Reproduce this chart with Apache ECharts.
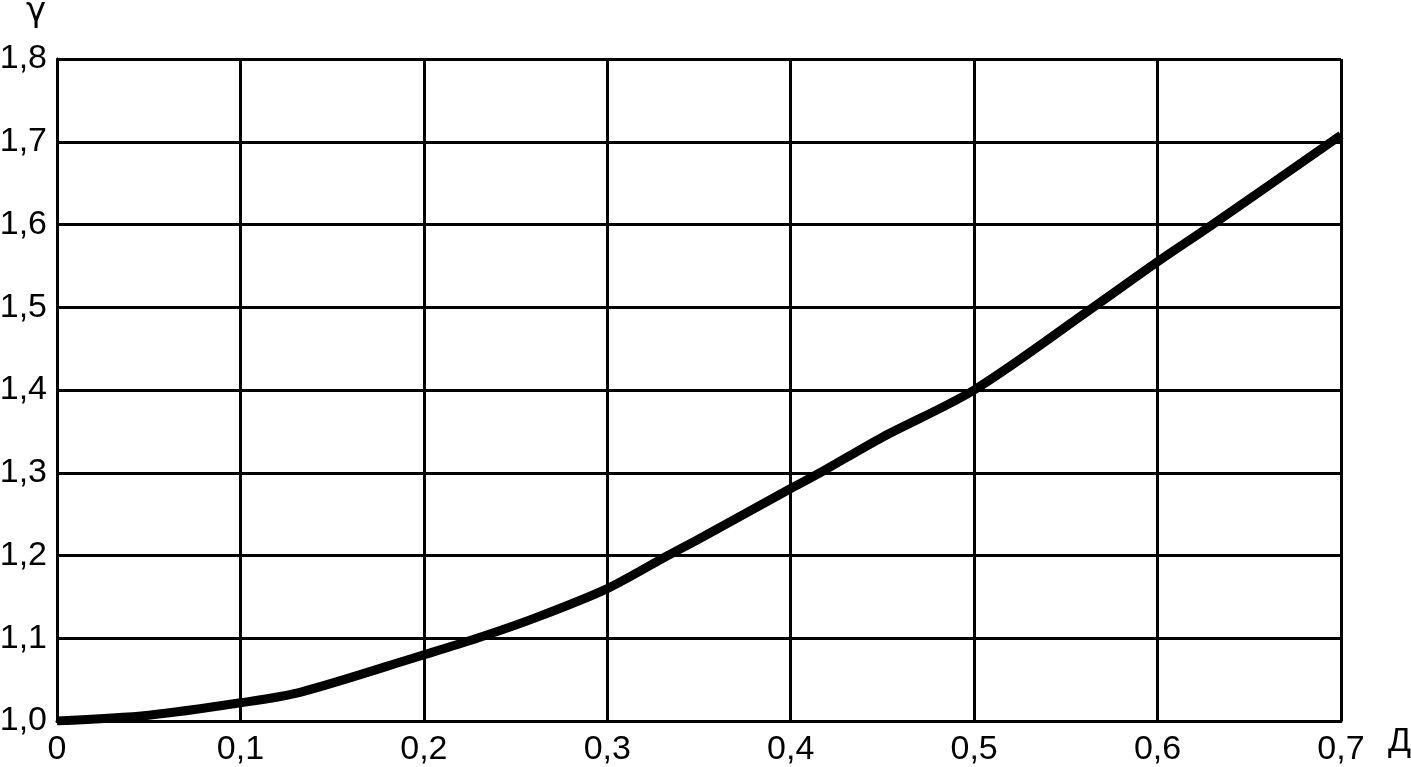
<!DOCTYPE html>
<html>
<head>
<meta charset="utf-8">
<script src="https://cdn.jsdelivr.net/npm/echarts@6/dist/echarts.min.js"></script>
<style>
  html, body { margin: 0; padding: 0; background: #fff; }
  #main { width: 1411px; height: 767px; }
</style>
</head>
<body>
<div id="main"></div>
<script>
// values
var dValues = [0, 0.05, 0.1, 0.133, 0.2, 0.229, 0.26, 0.3, 0.333, 0.35, 0.4, 0.416, 0.45, 0.5, 0.565, 0.6, 0.63, 0.7];
var gammaValues = [1.0, 1.007, 1.022, 1.035, 1.08, 1.1, 1.124, 1.16, 1.2, 1.22, 1.281, 1.3, 1.343, 1.4, 1.5, 1.555, 1.6, 1.708];
var xTicks = [0, 0.1, 0.2, 0.3, 0.4, 0.5, 0.6, 0.7];
var yTicks = [1.0, 1.1, 1.2, 1.3, 1.4, 1.5, 1.6, 1.7, 1.8];

var points = dValues.map(function (d, i) { return [d, gammaValues[i]]; });
var comma = function (v) { return v.toFixed(1).replace('.', ','); };

var myChart = echarts.init(document.getElementById('main'));
var font = 'Liberation Sans';
var option = {
  animation: false,
  grid: { left: 57, right: 70, top: 59, bottom: 46, containLabel: false, outerBoundsMode: 'none' },
  xAxis: {
    type: 'value',
    min: xTicks[0], max: xTicks[xTicks.length - 1], interval: 0.1,
    name: 'Д', nameLocation: 'end', nameGap: 47,
    nameTextStyle: { color: '#000', fontSize: 34, fontFamily: font, align: 'left', verticalAlign: 'top', padding: [4, 0, 0, 0] },
    axisLine: { show: true, lineStyle: { color: '#000', width: 3 } },
    axisTick: { show: false },
    axisLabel: {
      color: '#000', fontSize: 34, fontFamily: font, margin: 12,
      formatter: function (v) { return v === 0 ? '0' : comma(v); }
    },
    splitLine: { show: true, lineStyle: { color: '#000', width: 3 } }
  },
  yAxis: {
    type: 'value',
    min: yTicks[0], max: yTicks[yTicks.length - 1], interval: 0.1,
    name: 'γ', nameLocation: 'end', nameGap: 30,
    nameTextStyle: { color: '#000', fontSize: 34, fontFamily: 'DejaVu Sans', align: 'center', padding: [0, 42, 0, 0] },
    axisLine: { show: true, lineStyle: { color: '#000', width: 3 } },
    axisTick: { show: false },
    axisLabel: { color: '#000', fontSize: 34, fontFamily: font, margin: 10, formatter: comma },
    splitLine: { show: true, lineStyle: { color: '#000', width: 3 } }
  },
  series: [{
    type: 'line',
    data: points,
    smooth: 0.3,
    symbol: 'none',
    lineStyle: { color: '#000', width: 9 }
  }]
};
myChart.setOption(option);
</script>
</body>
</html>
